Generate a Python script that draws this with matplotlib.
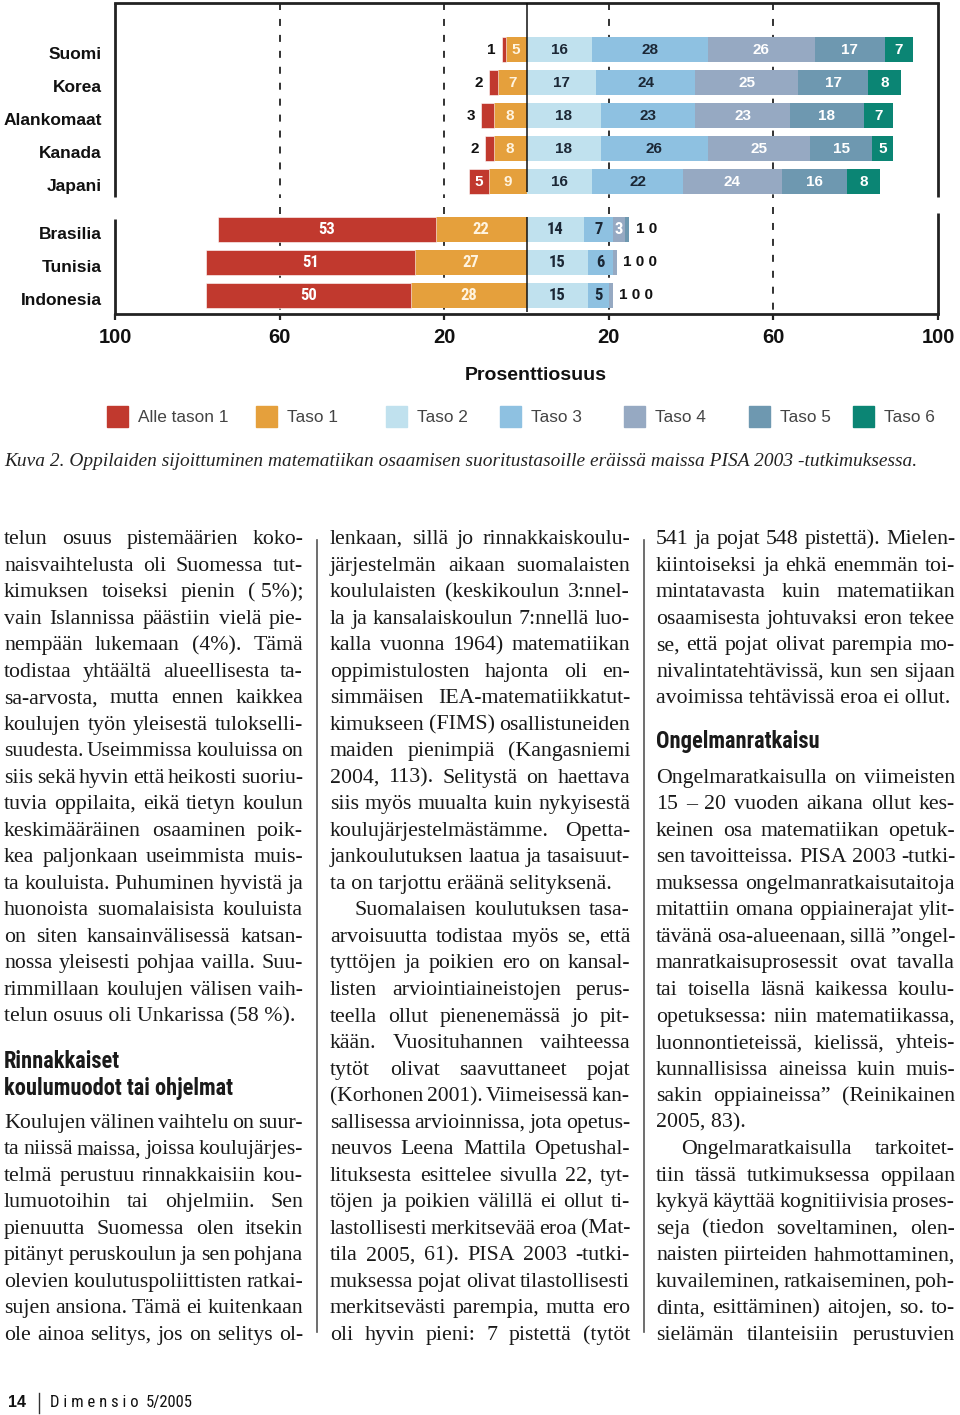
import numpy as np
import matplotlib
matplotlib.use('Agg')
import matplotlib.pyplot as plt
from matplotlib.font_manager import FontProperties
from matplotlib.patches import Rectangle
from matplotlib.lines import Line2D

W, H, DPI = 960, 1415, 100

# --- chart data -----------------------------------------------------------
countries = ['Suomi', 'Korea', 'Alankomaat', 'Kanada', 'Japani',
             'Brasilia', 'Tunisia', 'Indonesia']
levels = ['Alle tason 1', 'Taso 1', 'Taso 2', 'Taso 3', 'Taso 4', 'Taso 5', 'Taso 6']
below1 = [1, 2, 3, 2, 5, 53, 51, 50]
taso1 = [5, 7, 8, 8, 9, 22, 27, 28]
taso2 = [16, 17, 18, 18, 16, 14, 15, 15]
taso3 = [28, 24, 23, 26, 22, 7, 6, 5]
taso4 = [26, 25, 23, 25, 24, 3, 1, 1]
taso5 = [17, 17, 18, 15, 16, 1, 0, 0]
taso6 = [7, 8, 7, 5, 8, 0, 0, 0]
ticks = [-100, -60, -20, 20, 60, 100]
tick_labels = ['100', '60', '20', '20', '60', '100']

colors = ['#c1392e', '#e5a03c', '#c0e1ee', '#8ec1e1', '#96a9c2', '#6e98b0', '#0b8574']
label_colors = ['white', '#fff4e0', '#1b2735', '#1b2735', 'white', 'white', 'white']

caption = ('Kuva 2. Oppilaiden sijoittuminen matematiikan osaamisen '
           'suoritustasoille eräissä maissa PISA 2003 -tutkimuksessa.')

# --- article text ('>' = indented first line, '|' = paragraph end) --------
col1a = [
    'telun osuus pistemäärien koko-',
    'naisvaihtelusta oli Suomessa tut-',
    'kimuksen toiseksi pienin (\u00a05%);',
    'vain Islannissa päästiin vielä pie-',
    'nempään lukemaan (4%). Tämä',
    'todistaa yhtäältä alueellisesta ta-',
    'sa-arvosta, mutta ennen kaikkea',
    'koulujen työn yleisestä tulokselli-',
    'suudesta. Useimmissa kouluissa on',
    'siis sekä hyvin että heikosti suoriu-',
    'tuvia oppilaita, eikä tietyn koulun',
    'keskimääräinen osaaminen poik-',
    'kea paljonkaan useimmista muis-',
    'ta kouluista. Puhuminen hyvistä ja',
    'huonoista suomalaisista kouluista',
    'on siten kansainvälisessä katsan-',
    'nossa yleisesti pohjaa vailla. Suu-',
    'rimmillaan koulujen välisen vaih-',
    'telun osuus oli Unkarissa (58\u00a0%).|',
]
head1 = ['Rinnakkaiset', 'koulumuodot tai ohjelmat']
col1b = [
    'Koulujen välinen vaihtelu on suur-',
    'ta niissä maissa, joissa koulujärjes-',
    'telmä perustuu rinnakkaisiin kou-',
    'lumuotoihin tai ohjelmiin. Sen',
    'pienuutta Suomessa olen itsekin',
    'pitänyt peruskoulun ja sen pohjana',
    'olevien koulutuspoliittisten ratkai-',
    'sujen ansiona. Tämä ei kuitenkaan',
    'ole ainoa selitys, jos on selitys ol-',
]
col2 = [
    'lenkaan, sillä jo rinnakkaiskoulu-',
    'järjestelmän aikaan suomalaisten',
    'koululaisten (keskikoulun 3:nnel-',
    'la ja kansalaiskoulun 7:nnellä luo-',
    'kalla vuonna 1964) matematiikan',
    'oppimistulosten hajonta oli en-',
    'simmäisen IEA-matematiikkatut-',
    'kimukseen (FIMS) osallistuneiden',
    'maiden pienimpiä (Kangasniemi',
    '2004, 113). Selitystä on haettava',
    'siis myös muualta kuin nykyisestä',
    'koulujärjestelmästämme. Opetta-',
    'jankoulutuksen laatua ja tasaisuut-',
    'ta on tarjottu eräänä selityksenä.|',
    '>Suomalaisen koulutuksen tasa-',
    'arvoisuutta todistaa myös se, että',
    'tyttöjen ja poikien ero on kansal-',
    'listen arviointiaineistojen perus-',
    'teella ollut pienenemässä jo pit-',
    'kään. Vuosituhannen vaihteessa',
    'tytöt olivat saavuttaneet pojat',
    '(Korhonen 2001). Viimeisessä kan-',
    'sallisessa arvioinnissa, jota opetus-',
    'neuvos Leena Mattila Opetushal-',
    'lituksesta esittelee sivulla 22, tyt-',
    'töjen ja poikien välillä ei ollut ti-',
    'lastollisesti merkitsevää eroa (Mat-',
    'tila 2005, 61). PISA 2003 -tutki-',
    'muksessa pojat olivat tilastollisesti',
    'merkitsevästi parempia, mutta ero',
    'oli hyvin pieni: 7 pistettä (tytöt',
]
col3a = [
    '541 ja pojat 548 pistettä). Mielen-',
    'kiintoiseksi ja ehkä enemmän toi-',
    'mintatavasta kuin matematiikan',
    'osaamisesta johtuvaksi eron tekee',
    'se, että pojat olivat parempia mo-',
    'nivalintatehtävissä, kun sen sijaan',
    'avoimissa tehtävissä eroa ei ollut.|',
]
head3 = ['Ongelmanratkaisu']
col3b = [
    'Ongelmaratkaisulla on viimeisten',
    '15 \u2013 20 vuoden aikana ollut kes-',
    'keinen osa matematiikan opetuk-',
    'sen tavoitteissa. PISA 2003 -tutki-',
    'muksessa ongelmanratkaisutaitoja',
    'mitattiin omana oppiainerajat ylit-',
    'tävänä osa-alueenaan, sillä \u201dongel-',
    'manratkaisuprosessit ovat tavalla',
    'tai toisella läsnä kaikessa koulu-',
    'opetuksessa: niin matematiikassa,',
    'luonnontieteissä, kielissä, yhteis-',
    'kunnallisissa aineissa kuin muis-',
    'sakin oppiaineissa\u201d (Reinikainen',
    '2005, 83).|',
    '>Ongelmaratkaisulla tarkoitet-',
    'tiin tässä tutkimuksessa oppilaan',
    'kykyä käyttää kognitiivisia proses-',
    'seja (tiedon soveltaminen, olen-',
    'naisten piirteiden hahmottaminen,',
    'kuvaileminen, ratkaiseminen, poh-',
    'dinta, esittäminen) aitojen, so. to-',
    'sielämän tilanteisiin perustuvien',
]

fig = plt.figure(figsize=(W / DPI, H / DPI), dpi=DPI)
fig.patch.set_facecolor('white')
renderer = fig.canvas.get_renderer()


def fx(x):
    return x / W


def fy(y):
    return 1 - y / H


def width_px(s, fp):
    w, h, d = renderer.get_text_width_height_descent(s, fp, ismath=False)
    return w


def fitted(fp, s, target):
    fp = fp.copy()
    fp.set_size(fp.get_size_in_points() * target / width_px(s, fp))
    return fp


condensed = ['Roboto Condensed', 'Open Sans Condensed', 'Liberation Sans Narrow',
             'DejaVu Sans Condensed', 'Roboto', 'DejaVu Sans']

# --- chart ----------------------------------------------------------------
ROW0, ROWH = 49.5, 33.0


def pp(y):
    # pixel row -> position on the category axis
    return (y - ROW0) / ROWH


pos = np.array([0, 1, 2, 3, 4, 5.45, 6.45, 7.45])
bar_h = 0.76

ax = fig.add_axes([fx(115), fy(314), (938 - 115) / W, (314 - 3) / H])
ax.set_xlim(-100, 100)
ax.set_ylim(pp(314), pp(3))
for s in ['left', 'right']:
    ax.spines[s].set_visible(False)
for s in ['top', 'bottom']:
    ax.spines[s].set_linewidth(2)
    ax.spines[s].set_color('#222222')
ax.set_yticks([])

grid_kw = dict(colors='#333333', linestyles=(0, (3.6, 4.6)), lw=1.4, zorder=0)
ax.vlines([-60, -20, 20, 60], pp(3), pp(198), **grid_kw)
ax.vlines([-60, -20, 20, 60], pp(207), pp(314), **grid_kw)
frame_kw = dict(colors='#222222', lw=2, clip_on=False)
ax.vlines([-100, 100], pp(3), pp(197), **frame_kw)
ax.vlines(-100, pp(219), pp(314), **frame_kw)
ax.vlines(100, pp(213), pp(314), **frame_kw)
ax.vlines(0, pp(3), pp(192), colors='#111111', lw=1.1, zorder=4)
ax.vlines(0, pp(217), pp(312), colors='#111111', lw=1.1, zorder=4)

t1 = np.array(taso1)
b1 = np.array(below1)
ax.barh(pos, -t1, height=bar_h, color=colors[1], zorder=2)
ax.barh(pos, -b1, left=-t1, height=bar_h, color=colors[0], zorder=2,
        edgecolor='white', linewidth=0.4)

right_series = [np.array(s) for s in (taso2, taso3, taso4, taso5, taso6)]
start = np.zeros(len(pos))
starts = []
for k, s in enumerate(right_series):
    ax.barh(pos, s, left=start, height=bar_h, color=colors[k + 2], zorder=2)
    starts.append(start.copy())
    start = start + s
right_end = start

top_fp = FontProperties(family=['Liberation Sans', 'DejaVu Sans'], weight='bold', size=11)
low_fp = FontProperties(family=condensed, weight='bold', stretch='condensed', size=12)

for i, p in enumerate(pos):
    val_fp = top_fp if i < 5 else low_fp
    # left side
    if t1[i] >= 3:
        ax.text(-t1[i] / 2, p, str(t1[i]), ha='center', va='center',
                color=label_colors[1], fontproperties=val_fp, zorder=5)
    if b1[i] >= 4:
        ax.text(-t1[i] - b1[i] / 2, p, str(b1[i]), ha='center', va='center',
                color=label_colors[0], fontproperties=val_fp, zorder=5)
    else:
        ax.text(-t1[i] - b1[i] - 1.5, p, str(b1[i]), ha='right', va='center',
                color='#111111', fontproperties=val_fp, zorder=5)
    # right side
    small = []
    for k, s in enumerate(right_series):
        v = s[i]
        if v >= 3 and not small:
            ax.text(starts[k][i] + v / 2, p, str(v), ha='center', va='center',
                    color=label_colors[k + 2], fontproperties=val_fp, zorder=5)
        else:
            small.append(str(v))
    if small:
        ax.text(right_end[i] + 1.5, p, ' '.join(small), ha='left', va='center',
                color='#111111', fontproperties=top_fp, zorder=5)

name_fp = FontProperties(family=['Liberation Sans', 'DejaVu Sans'], weight='bold', size=12.5)
for name, p in zip(countries, pos):
    ax.annotate(name, xy=(-100, p), xytext=(-13, -5), textcoords='offset pixels',
                ha='right', va='center', fontproperties=name_fp, color='#111111',
                annotation_clip=False)

ax.set_xticks(ticks, tick_labels)
ax.tick_params(axis='x', length=4, width=1.6, color='#222222', pad=6)
tick_fp = FontProperties(family=['Liberation Sans', 'DejaVu Sans'], weight='bold', size=14.5)
for lab in ax.get_xticklabels():
    lab.set_fontproperties(tick_fp)
    lab.set_color('#111111')

fig.text(fx(536), fy(376), 'Prosenttiosuus', ha='center', va='center',
         fontproperties=FontProperties(family=['Liberation Sans', 'DejaVu Sans'],
                                       weight='bold', size=14), color='#111111')

# legend
leg_fp = FontProperties(family=['Liberation Sans Narrow', 'Liberation Sans'], size=12)
leg_fp = fitted(leg_fp, 'Alle tason 1', 90)
leg_x = [107, 256, 386, 500, 624, 749, 853]
for c, lab, x in zip(colors, levels, leg_x):
    fig.add_artist(Rectangle((fx(x), fy(427)), 21 / W, 21 / H,
                             transform=fig.transFigure, color=c))
    fig.text(fx(x + 31), fy(417), lab, fontproperties=leg_fp, va='center', color='#444444')

cap_fp = FontProperties(family=['Liberation Serif', 'DejaVu Serif'], style='italic', size=14)
cap_fp = fitted(cap_fp, caption, 912)
fig.text(fx(4), fy(466), caption, fontproperties=cap_fp, va='baseline', color='#222222')

# --- article text -----------------------------------------------------------
body_fp = FontProperties(family=['Liberation Serif', 'DejaVu Serif'], size=15)
body_fp = fitted(body_fp, 'avoimissa tehtävissä eroa ei ollut.', 297)
BASE0, LEAD = 544.0, 26.53


def put(x, y, s, fp):
    fig.text(fx(x), fy(y), s, fontproperties=fp, va='baseline', color='#1a1a1a')


def set_line(s, x0, x1, y, fp):
    justify = not s.endswith('|')
    s = s.rstrip('|')
    if s.startswith('>'):
        s = s[1:]
        x0 += 25
    words = s.split(' ')
    if not justify or len(words) == 1:
        put(x0, y, s, fp)
        return
    ws = [width_px(w, fp) for w in words]
    room = x1 - x0
    gap = (room - sum(ws)) / (len(words) - 1)
    min_gap = 0.17 * fp.get_size_in_points() * DPI / 72
    if gap < min_gap:
        fp = fp.copy()
        fp.set_size(fp.get_size_in_points() * (room - min_gap * (len(words) - 1)) / sum(ws))
        ws = [width_px(w, fp) for w in words]
        gap = (room - sum(ws)) / (len(words) - 1)
    x = x0
    for w, ww in zip(words, ws):
        put(x, y, w, fp)
        x += ww + gap


def set_block(lines, x0, x1, first_slot):
    for k, s in enumerate(lines):
        set_line(s, x0, x1, BASE0 + LEAD * (first_slot + k), body_fp)


set_block(col1a, 4, 303, 0)
set_block(col1b, 4, 303, 22)
set_block(col2, 330, 630, 0)
set_block(col3a, 656, 955, 0)
set_block(col3b, 656, 955, 9)

head_fp = FontProperties(family=condensed, weight='bold', stretch='condensed', size=16)
head_fp = fitted(head_fp, head1[1], 230)
put(4, 1068, head1[0], head_fp)
put(4, 1095, head1[1], head_fp)
put(656, 748, head3[0], head_fp)

for x in (317, 644):
    fig.add_artist(Line2D([fx(x), fx(x)], [fy(540), fy(1332)], color='#555555', lw=1.2))

# footer
foot_fp = FontProperties(family=condensed, stretch='condensed', size=11)
foot_fp = fitted(foot_fp, 'D i m e n s i o', 88)
fig.text(fx(8), fy(1407), '14', va='baseline', color='#111111',
         fontproperties=FontProperties(family='Liberation Sans', weight='bold', size=11.5))
fig.add_artist(Line2D([fx(39), fx(39)], [fy(1393), fy(1413)], color='#333333', lw=1))
fig.text(fx(50), fy(1407), 'D i m e n s i o', va='baseline', color='#111111',
         fontproperties=foot_fp)
fig.text(fx(146), fy(1407), '5/2005', va='baseline', color='#111111',
         fontproperties=foot_fp)

fig.savefig('out.png', dpi=DPI)
